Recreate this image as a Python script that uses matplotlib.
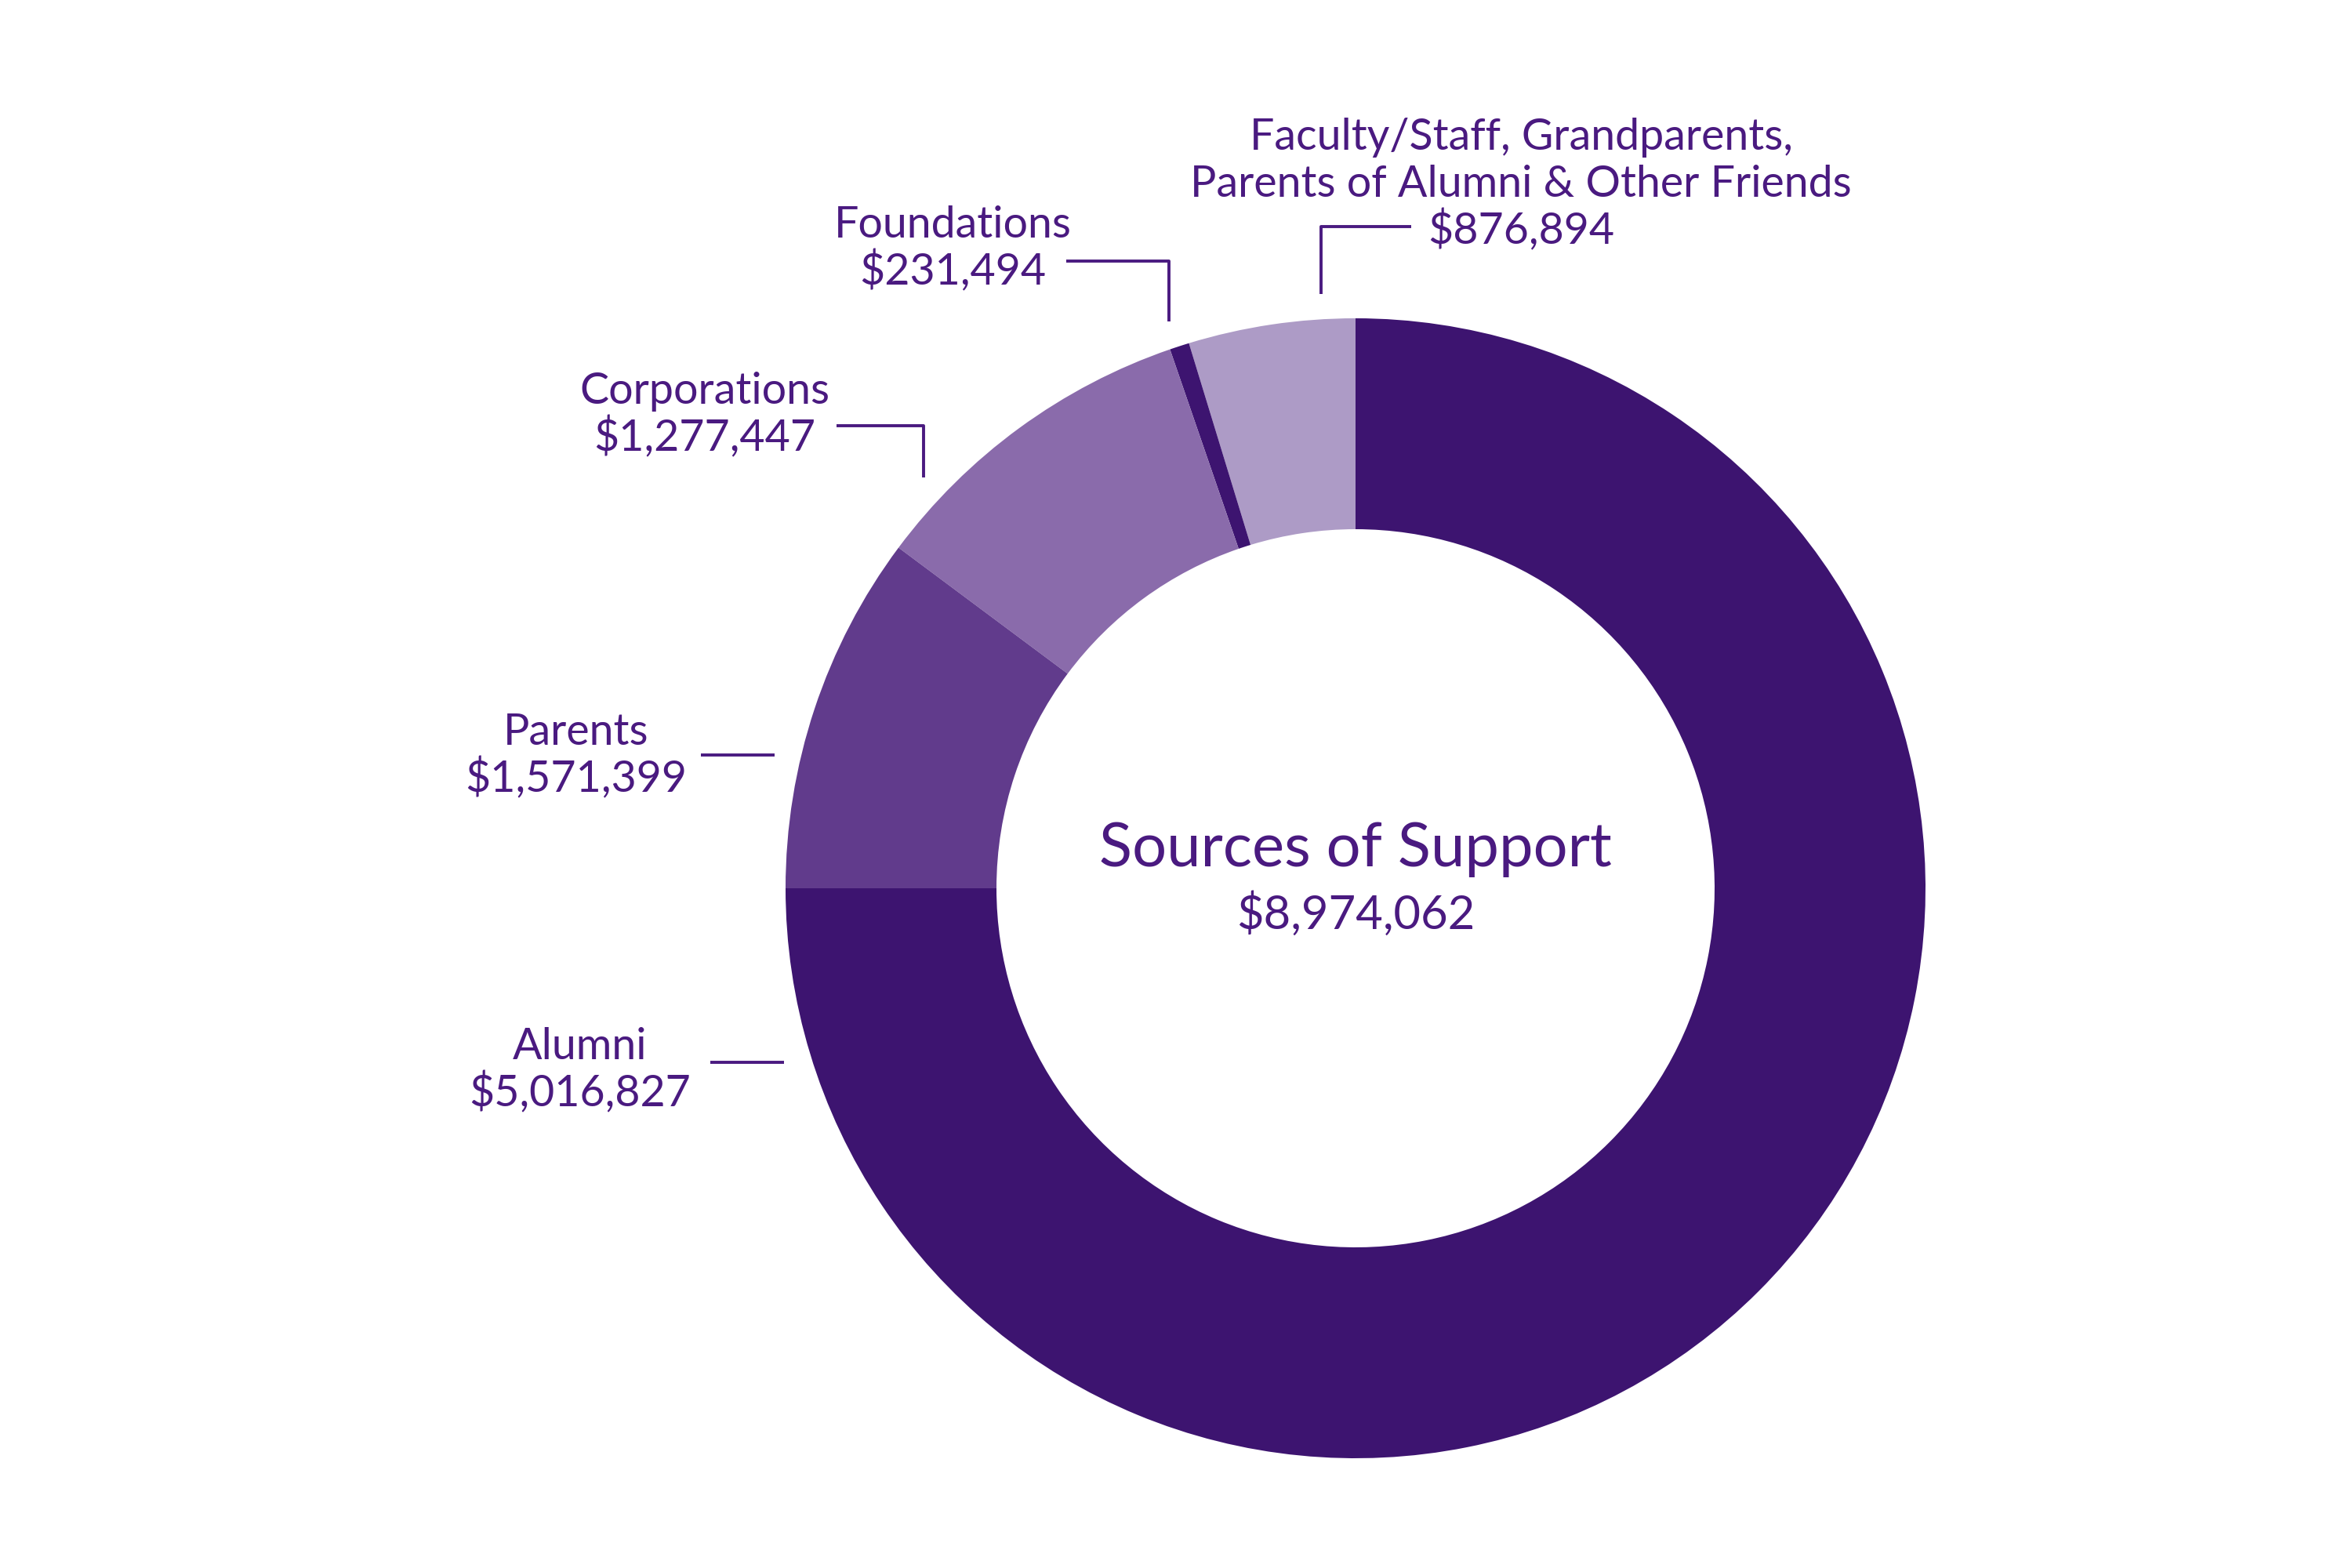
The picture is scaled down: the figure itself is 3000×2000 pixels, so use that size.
import matplotlib
matplotlib.use("Agg")
import matplotlib.pyplot as plt

# categories in drawing order (counter-clockwise from 12 o'clock)
names = ["Faculty/Staff, Grandparents,\nParents of Alumni & Other Friends",
         "Foundations", "Corporations", "Parents", "Alumni"]
amounts = ["$876,894", "$231,494", "$1,277,447", "$1,571,399", "$5,016,827"]
# slice sizes as drawn in the chart (degrees of the ring)
shares = [17.0, 2.0, 34.3, 36.7, 270.0]
colors = ["#ad9bc6", "#3d1470", "#8a6bab", "#613b8c", "#3d1470"]

title = "Sources of Support"
total = "$8,974,062"

W, H = 3000, 2000
TXT = "#4a1a80"
plt.rcParams['font.family'] = ['Lato', 'DejaVu Sans']

def Y(y):
    return H - y

fig = plt.figure(figsize=(15, 10), dpi=200)
ax = fig.add_axes([0, 0, 1, 1])

cx, cy, R, ring = 1729, 1133, 727, 269
ax.pie(shares, colors=colors, startangle=90, counterclock=True,
       center=(cx, Y(cy)), radius=R,
       wedgeprops=dict(width=ring, linewidth=0, antialiased=True))

ax.set_xlim(0, W)
ax.set_ylim(0, H)
ax.set_aspect('equal')
ax.axis('off')

# label layout: (x centre, baseline of first line), leader polyline
label_pos = [(1940, 191), (1215, 303), (899, 515), (735, 950), (740, 1351)]
leaders = [
    [(1800, 289), (1685, 289), (1685, 375)],
    [(1360, 333), (1491, 333), (1491, 410)],
    [(1067, 543), (1178, 543), (1178, 609)],
    [(894, 963), (988, 963)],
    [(906, 1355), (1000, 1355)],
]
fs = 20
step = 60

for name, amt, (lx, ly), pts in zip(names, amounts, label_pos, leaders):
    lines = name.split("\n") + [amt]
    for i, t in enumerate(lines):
        ax.text(lx, Y(ly + i * step), t, ha='center', va='baseline',
                fontsize=fs, color=TXT)
    xs = [p[0] for p in pts]
    ys = [Y(p[1]) for p in pts]
    ax.plot(xs, ys, color=TXT, lw=1.4, solid_capstyle='butt')

ax.text(cx, Y(1105), title, ha='center', va='baseline', fontsize=28, color=TXT)
ax.text(cx, Y(1185), total, ha='center', va='baseline', fontsize=21.5, color=TXT)

fig.savefig("out.png", dpi=200, facecolor="white")
